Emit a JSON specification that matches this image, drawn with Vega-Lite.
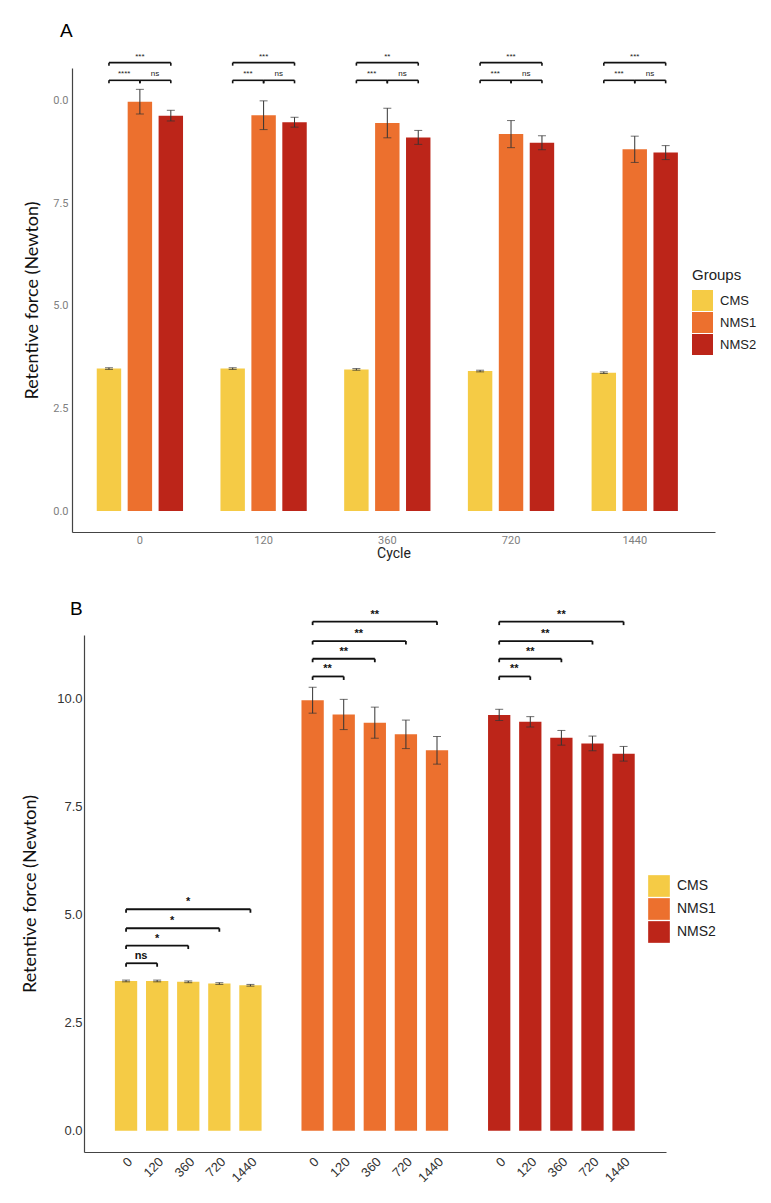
{
  "$schema": "https://vega.github.io/schema/vega-lite/v6.json",
  "background": "white",
  "padding": {"left": 21, "top": 21, "right": 5, "bottom": 5},
  "config": {"view": {"stroke": null}, "font": "Liberation Sans"},
  "datasets": {
    "bars": [
      {"bar": "CMS 0", "group": "CMS", "cycle": "0", "mean": 3.47, "sd": 0.02},
      {"bar": "CMS 120", "group": "CMS", "cycle": "120", "mean": 3.47, "sd": 0.02},
      {"bar": "CMS 360", "group": "CMS", "cycle": "360", "mean": 3.45, "sd": 0.02},
      {"bar": "CMS 720", "group": "CMS", "cycle": "720", "mean": 3.41, "sd": 0.02},
      {"bar": "CMS 1440", "group": "CMS", "cycle": "1440", "mean": 3.37, "sd": 0.02},
      {"bar": "NMS1 0", "group": "NMS1", "cycle": "0", "mean": 9.97, "sd": 0.30},
      {"bar": "NMS1 120", "group": "NMS1", "cycle": "120", "mean": 9.64, "sd": 0.35},
      {"bar": "NMS1 360", "group": "NMS1", "cycle": "360", "mean": 9.45, "sd": 0.36},
      {"bar": "NMS1 720", "group": "NMS1", "cycle": "720", "mean": 9.18, "sd": 0.33},
      {"bar": "NMS1 1440", "group": "NMS1", "cycle": "1440", "mean": 8.81, "sd": 0.32},
      {"bar": "NMS2 0", "group": "NMS2", "cycle": "0", "mean": 9.63, "sd": 0.13},
      {"bar": "NMS2 120", "group": "NMS2", "cycle": "120", "mean": 9.47, "sd": 0.12},
      {"bar": "NMS2 360", "group": "NMS2", "cycle": "360", "mean": 9.10, "sd": 0.17},
      {"bar": "NMS2 720", "group": "NMS2", "cycle": "720", "mean": 8.97, "sd": 0.17},
      {"bar": "NMS2 1440", "group": "NMS2", "cycle": "1440", "mean": 8.73, "sd": 0.17}
    ],
    "brackets": [
      {"panel": "A", "from": "CMS 0", "to": "NMS1 0", "mid": "CMS 0", "half": true, "level": 10.49, "label": "****"},
      {"panel": "A", "from": "NMS1 0", "to": "NMS2 0", "mid": "NMS1 0", "half": true, "level": 10.49, "label": "ns"},
      {"panel": "A", "from": "CMS 0", "to": "NMS2 0", "mid": "NMS1 0", "half": false, "level": 10.92, "label": "***"},
      {"panel": "A", "from": "CMS 120", "to": "NMS1 120", "mid": "CMS 120", "half": true, "level": 10.49, "label": "***"},
      {"panel": "A", "from": "NMS1 120", "to": "NMS2 120", "mid": "NMS1 120", "half": true, "level": 10.49, "label": "ns"},
      {"panel": "A", "from": "CMS 120", "to": "NMS2 120", "mid": "NMS1 120", "half": false, "level": 10.92, "label": "***"},
      {"panel": "A", "from": "CMS 360", "to": "NMS1 360", "mid": "CMS 360", "half": true, "level": 10.49, "label": "***"},
      {"panel": "A", "from": "NMS1 360", "to": "NMS2 360", "mid": "NMS1 360", "half": true, "level": 10.49, "label": "ns"},
      {"panel": "A", "from": "CMS 360", "to": "NMS2 360", "mid": "NMS1 360", "half": false, "level": 10.92, "label": "**"},
      {"panel": "A", "from": "CMS 720", "to": "NMS1 720", "mid": "CMS 720", "half": true, "level": 10.49, "label": "***"},
      {"panel": "A", "from": "NMS1 720", "to": "NMS2 720", "mid": "NMS1 720", "half": true, "level": 10.49, "label": "ns"},
      {"panel": "A", "from": "CMS 720", "to": "NMS2 720", "mid": "NMS1 720", "half": false, "level": 10.92, "label": "***"},
      {"panel": "A", "from": "CMS 1440", "to": "NMS1 1440", "mid": "CMS 1440", "half": true, "level": 10.49, "label": "***"},
      {"panel": "A", "from": "NMS1 1440", "to": "NMS2 1440", "mid": "NMS1 1440", "half": true, "level": 10.49, "label": "ns"},
      {"panel": "A", "from": "CMS 1440", "to": "NMS2 1440", "mid": "NMS1 1440", "half": false, "level": 10.92, "label": "***"},
      {"panel": "B", "from": "CMS 0", "to": "CMS 120", "mid": "CMS 0", "half": true, "level": 3.88, "label": "ns"},
      {"panel": "B", "from": "CMS 0", "to": "CMS 360", "mid": "CMS 120", "half": false, "level": 4.29, "label": "*"},
      {"panel": "B", "from": "CMS 0", "to": "CMS 720", "mid": "CMS 120", "half": true, "level": 4.69, "label": "*"},
      {"panel": "B", "from": "CMS 0", "to": "CMS 1440", "mid": "CMS 360", "half": false, "level": 5.13, "label": "*"},
      {"panel": "B", "from": "NMS1 0", "to": "NMS1 120", "mid": "NMS1 0", "half": true, "level": 10.52, "label": "**"},
      {"panel": "B", "from": "NMS1 0", "to": "NMS1 360", "mid": "NMS1 120", "half": false, "level": 10.93, "label": "**"},
      {"panel": "B", "from": "NMS1 0", "to": "NMS1 720", "mid": "NMS1 120", "half": true, "level": 11.34, "label": "**"},
      {"panel": "B", "from": "NMS1 0", "to": "NMS1 1440", "mid": "NMS1 360", "half": false, "level": 11.79, "label": "**"},
      {"panel": "B", "from": "NMS2 0", "to": "NMS2 120", "mid": "NMS2 0", "half": true, "level": 10.52, "label": "**"},
      {"panel": "B", "from": "NMS2 0", "to": "NMS2 360", "mid": "NMS2 120", "half": false, "level": 10.93, "label": "**"},
      {"panel": "B", "from": "NMS2 0", "to": "NMS2 720", "mid": "NMS2 120", "half": true, "level": 11.34, "label": "**"},
      {"panel": "B", "from": "NMS2 0", "to": "NMS2 1440", "mid": "NMS2 360", "half": false, "level": 11.79, "label": "**"}
    ]
  },
  "vconcat": [
    {
      "title": {"text": "A", "anchor": "start", "frame": "group", "fontSize": 19, "fontWeight": "normal", "font": "Liberation Sans", "color": "#000", "dx": -12, "offset": 12},
      "width": 643,
      "height": 464,
      "layer": [
        {
          "data": {"name": "bars"},
          "mark": {"type": "bar"},
          "encoding": {
            "x": {"field": "bar", "type": "nominal",
              "scale": {"domain": ["CMS 0", "NMS1 0", "NMS2 0", "gapA1", "CMS 120", "NMS1 120", "NMS2 120", "gapA2", "CMS 360", "NMS1 360", "NMS2 360", "gapA3", "CMS 720", "NMS1 720", "NMS2 720", "gapA4", "CMS 1440", "NMS1 1440", "NMS2 1440"], "paddingInner": 0.21, "paddingOuter": 1.19, "align": 0.4},
              "axis": {"title": "Cycle", "labelExpr": "indexof(datum.label, 'NMS1') == 0 ? split(datum.label, ' ')[1] : ''", "labelAngle": 0, "ticks": false, "grid": false, "domainColor": "#444", "domainWidth": 1.2, "labelColor": "#808080", "labelFont": "Roboto", "labelFontSize": 11, "labelPadding": 2, "labelOverlap": false, "titleFont": "Roboto", "titleFontSize": 14, "titleFontWeight": "normal", "titleColor": "#222", "titlePadding": 1}},
            "y": {"field": "mean", "type": "quantitative",
              "scale": {"domain": [-0.51, 10.79], "nice": false, "zero": false},
              "axis": {"title": "Retentive force (Newton)", "values": [0, 2.5, 5, 7.5, 10], "labelExpr": "datum.value == 10 ? '0.0' : format(datum.value, '.1f')", "ticks": false, "grid": false, "domainColor": "#444", "domainWidth": 1.2, "labelColor": "#808080", "labelFont": "Roboto", "labelFontSize": 11, "labelPadding": 4, "titleFont": "Lato", "titleFontSize": 18, "titleFontWeight": "normal", "titleColor": "#111", "titlePadding": 11}},
            "y2": {"datum": 0},
            "color": {"field": "group", "type": "nominal",
              "scale": {"domain": ["CMS", "NMS1", "NMS2"], "range": ["#F5CB45", "#EC702E", "#BC2519"]},
              "legend": {"title": "Groups", "orient": "none", "legendX": 620, "legendY": 200, "padding": 0, "symbolType": "square", "symbolSize": 441, "symbolStrokeWidth": 0, "titleFont": "Liberation Sans", "titleFontSize": 15, "titleFontWeight": "normal", "titleColor": "#222", "titlePadding": 7, "labelFont": "Liberation Sans", "labelFontSize": 13, "labelColor": "#222", "labelOffset": 7, "rowPadding": 1}}
          }
        },
        {
          "data": {"name": "bars"},
          "mark": {"type": "errorbar", "ticks": {"size": 8}, "thickness": 1, "color": "#333"},
          "encoding": {
            "x": {"field": "bar", "type": "nominal", "title": "Cycle"},
            "y": {"field": "mean", "type": "quantitative", "title": "Retentive force (Newton)"},
            "yError": {"field": "sd"}
          }
        },
        {
          "data": {"name": "brackets"},
          "transform": [{"filter": "datum.panel == 'A'"}],
          "mark": {"type": "rule", "color": "#111", "strokeWidth": 1.6},
          "encoding": {
            "x": {"field": "from", "type": "nominal", "title": "Cycle"},
            "x2": {"field": "to"},
            "y": {"field": "level", "type": "quantitative", "title": "Retentive force (Newton)"}
          }
        },
        {
          "data": {"name": "brackets"},
          "transform": [{"filter": "datum.panel == 'A'"}],
          "mark": {"type": "point", "shape": "M0,0L0,1", "size": 36, "filled": false, "color": "#111", "strokeWidth": 1.6, "opacity": 1},
          "encoding": {
            "x": {"field": "from", "type": "nominal", "title": "Cycle"},
            "y": {"field": "level", "type": "quantitative", "title": "Retentive force (Newton)"}
          }
        },
        {
          "data": {"name": "brackets"},
          "transform": [{"filter": "datum.panel == 'A'"}],
          "mark": {"type": "point", "shape": "M0,0L0,1", "size": 36, "filled": false, "color": "#111", "strokeWidth": 1.6, "opacity": 1},
          "encoding": {
            "x": {"field": "to", "type": "nominal", "title": "Cycle"},
            "y": {"field": "level", "type": "quantitative", "title": "Retentive force (Newton)"}
          }
        },
        {
          "data": {"name": "brackets"},
          "transform": [{"filter": "datum.panel == 'A' && !datum.half"}],
          "mark": {"type": "text", "fontSize": 8, "color": "#222", "baseline": "alphabetic", "dy": -4},
          "encoding": {
            "x": {"field": "mid", "type": "nominal", "title": "Cycle"},
            "y": {"field": "level", "type": "quantitative", "title": "Retentive force (Newton)"},
            "text": {"field": "label"}
          }
        },
        {
          "data": {"name": "brackets"},
          "transform": [{"filter": "datum.panel == 'A' && datum.half"}],
          "mark": {"type": "text", "fontSize": 8, "color": "#222", "baseline": "alphabetic", "dy": -4, "dx": 15.19},
          "encoding": {
            "x": {"field": "mid", "type": "nominal", "title": "Cycle"},
            "y": {"field": "level", "type": "quantitative", "title": "Retentive force (Newton)"},
            "text": {"field": "label"}
          }
        }
      ]
    },
    {
      "title": {"text": "B", "anchor": "start", "frame": "group", "fontSize": 19, "fontWeight": "normal", "font": "Liberation Sans", "color": "#000", "dx": -2, "offset": -10},
      "width": 594,
      "height": 517,
      "layer": [
        {
          "data": {"name": "bars"},
          "mark": {"type": "bar"},
          "encoding": {
            "x": {"field": "bar", "type": "nominal",
              "scale": {"domain": ["CMS 0", "CMS 120", "CMS 360", "CMS 720", "CMS 1440", "gapB1", "NMS1 0", "NMS1 120", "NMS1 360", "NMS1 720", "NMS1 1440", "gapB2", "NMS2 0", "NMS2 120", "NMS2 360", "NMS2 720", "NMS2 1440"], "range": [12, 594], "paddingInner": 0.283, "paddingOuter": 1.342, "align": 0.497},
              "axis": {"title": null, "labelExpr": "indexof(datum.label, ' ') > 0 ? split(datum.label, ' ')[1] : ''", "labelAngle": -45, "ticks": false, "grid": false, "domainColor": "#444", "domainWidth": 1.2, "labelColor": "#333", "labelFont": "Liberation Sans", "labelFontSize": 13, "labelPadding": 3, "labelOverlap": false}},
            "y": {"field": "mean", "type": "quantitative",
              "scale": {"domain": [-0.49, 11.48], "nice": false, "zero": false},
              "axis": {"title": "Retentive force (Newton)", "offset": -12, "values": [0, 2.5, 5, 7.5, 10], "format": ".1f", "ticks": false, "grid": false, "domainColor": "#444", "domainWidth": 1.2, "labelColor": "#333", "labelFont": "Liberation Sans", "labelFontSize": 13, "labelPadding": 2, "titleFont": "Lato", "titleFontSize": 18, "titleFontWeight": "normal", "titleColor": "#111", "titlePadding": 17}},
            "y2": {"datum": 0},
            "color": {"field": "group", "type": "nominal",
              "scale": {"domain": ["CMS", "NMS1", "NMS2"], "range": ["#F5CB45", "#EC702E", "#BC2519"]},
              "legend": {"title": null, "orient": "none", "legendX": 576, "legendY": 240, "padding": 0, "symbolType": "square", "symbolSize": 470, "symbolStrokeWidth": 0, "labelFont": "Liberation Sans", "labelFontSize": 14, "labelColor": "#222", "labelOffset": 7, "rowPadding": 1}}
          }
        },
        {
          "data": {"name": "bars"},
          "mark": {"type": "errorbar", "ticks": {"size": 8}, "thickness": 1, "color": "#333"},
          "encoding": {
            "x": {"field": "bar", "type": "nominal", "title": null},
            "y": {"field": "mean", "type": "quantitative", "title": "Retentive force (Newton)"},
            "yError": {"field": "sd"}
          }
        },
        {
          "data": {"name": "brackets"},
          "transform": [{"filter": "datum.panel == 'B'"}],
          "mark": {"type": "rule", "color": "#111", "strokeWidth": 1.8},
          "encoding": {
            "x": {"field": "from", "type": "nominal", "title": null},
            "x2": {"field": "to"},
            "y": {"field": "level", "type": "quantitative", "title": "Retentive force (Newton)"}
          }
        },
        {
          "data": {"name": "brackets"},
          "transform": [{"filter": "datum.panel == 'B'"}],
          "mark": {"type": "point", "shape": "M0,0L0,1", "size": 49, "filled": false, "color": "#111", "strokeWidth": 1.8, "opacity": 1},
          "encoding": {
            "x": {"field": "from", "type": "nominal", "title": null},
            "y": {"field": "level", "type": "quantitative", "title": "Retentive force (Newton)"}
          }
        },
        {
          "data": {"name": "brackets"},
          "transform": [{"filter": "datum.panel == 'B'"}],
          "mark": {"type": "point", "shape": "M0,0L0,1", "size": 49, "filled": false, "color": "#111", "strokeWidth": 1.8, "opacity": 1},
          "encoding": {
            "x": {"field": "to", "type": "nominal", "title": null},
            "y": {"field": "level", "type": "quantitative", "title": "Retentive force (Newton)"}
          }
        },
        {
          "data": {"name": "brackets"},
          "transform": [{"filter": "datum.panel == 'B' && !datum.half"}],
          "mark": {"type": "text", "fontSize": 11, "fontWeight": "bold", "color": "#111", "baseline": "alphabetic", "dy": -4},
          "encoding": {
            "x": {"field": "mid", "type": "nominal", "title": null},
            "y": {"field": "level", "type": "quantitative", "title": "Retentive force (Newton)"},
            "text": {"field": "label"}
          }
        },
        {
          "data": {"name": "brackets"},
          "transform": [{"filter": "datum.panel == 'B' && datum.half"}],
          "mark": {"type": "text", "fontSize": 11, "fontWeight": "bold", "color": "#111", "baseline": "alphabetic", "dy": -4, "dx": 15},
          "encoding": {
            "x": {"field": "mid", "type": "nominal", "title": null},
            "y": {"field": "level", "type": "quantitative", "title": "Retentive force (Newton)"},
            "text": {"field": "label"}
          }
        }
      ]
    }
  ],
  "spacing": 39,
  "align": "none",
  "resolve": {"legend": {"color": "independent"}}
}
